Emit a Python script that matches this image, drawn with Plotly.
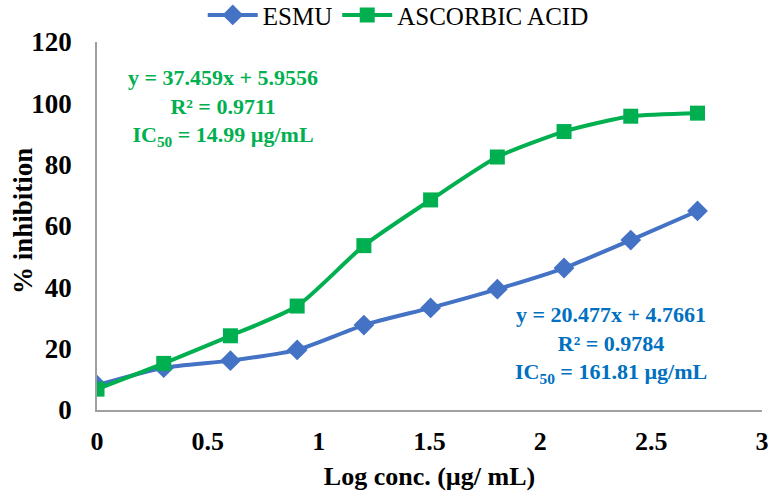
import plotly.graph_objects as go

log_conc = [0, 0.301, 0.602, 0.903, 1.204, 1.505, 1.806, 2.107, 2.408, 2.709]
esmu = [8.1, 13.8, 16.1, 19.6, 27.7, 33.3, 39.4, 46.3, 55.4, 64.9]
ascorbic = [6.8, 15.2, 24.2, 33.9, 53.6, 68.5, 82.5, 90.8, 95.8, 96.8]
x_ticks = [0, 0.5, 1, 1.5, 2, 2.5, 3]
x_tick_labels = ["0", "0.5", "1", "1.5", "2", "2.5", "3"]
y_ticks = [0, 20, 40, 60, 80, 100, 120]

FONT = "Liberation Serif, Times New Roman, serif"

fig = go.Figure()
fig.add_trace(go.Scatter(
    x=log_conc, y=esmu, name="ESMU", mode="lines+markers",
    line=dict(color="#4472C4", width=4, shape="spline", smoothing=0.6),
    marker=dict(symbol="diamond", size=16, color="#4472C4"),
))
fig.add_trace(go.Scatter(
    x=log_conc, y=ascorbic, name="ASCORBIC ACID", mode="lines+markers",
    line=dict(color="#00B050", width=4, shape="spline", smoothing=0.6),
    marker=dict(symbol="square", size=15, color="#00B050"),
))

fig.add_annotation(
    x=0.568, y=98.8, xref="x", yref="y", xanchor="center", yanchor="middle",
    text="<b>y = 37.459x + 5.9556<br>R² = 0.9711<br>IC<sub>50</sub> = 14.99 µg/mL</b>",
    showarrow=False, align="center",
    font=dict(family=FONT, size=22, color="#00B050"),
)
fig.add_annotation(
    x=2.318, y=21.2, xref="x", yref="y", xanchor="center", yanchor="middle",
    text="<b>y = 20.477x + 4.7661<br>R² = 0.9784<br>IC<sub>50</sub> = 161.81 µg/mL</b>",
    showarrow=False, align="center",
    font=dict(family=FONT, size=22, color="#0070C0"),
)
# y-axis title
fig.add_annotation(
    x=-0.111, y=0.514, xref="paper", yref="paper", xanchor="center", yanchor="middle",
    text="<b>% inhibition</b>", textangle=-90, showarrow=False,
    font=dict(family=FONT, size=27, color="black"),
)

fig.update_layout(
    width=769, height=491,
    margin=dict(l=97, r=7, t=42, b=81, autoexpand=False),
    paper_bgcolor="white", plot_bgcolor="white",
    font=dict(family=FONT, color="black"),
    showlegend=True,
    legend=dict(orientation="h", x=0.453, y=1.073, xanchor="center", yanchor="middle",
                font=dict(family=FONT, size=25, color="black"), itemwidth=50,
                bgcolor="rgba(0,0,0,0)"),
    xaxis=dict(
        range=[0, 3], tickvals=x_ticks, ticktext=x_tick_labels, automargin=False,
        showgrid=False, zeroline=False, showline=True, linecolor="#A0A0A0", linewidth=1.5,
        ticks="", tickfont=dict(family=FONT, size=26, color="black", weight="bold"),
        ticklabelstandoff=7,
        title=dict(text="<b>Log conc. (µg/ mL)</b>", font=dict(family=FONT, size=26, color="black"), standoff=22),
    ),
    yaxis=dict(
        range=[0, 120], tickvals=y_ticks, automargin=False,
        showgrid=False, zeroline=False, showline=True, linecolor="#A0A0A0", linewidth=1.5,
        ticks="", tickfont=dict(family=FONT, size=27, color="black", weight="bold"),
        ticklabelstandoff=18,
    ),
)

fig.write_html("out.html", config={"displayModeBar": False},
               post_script="document.body.style.margin='0';")
